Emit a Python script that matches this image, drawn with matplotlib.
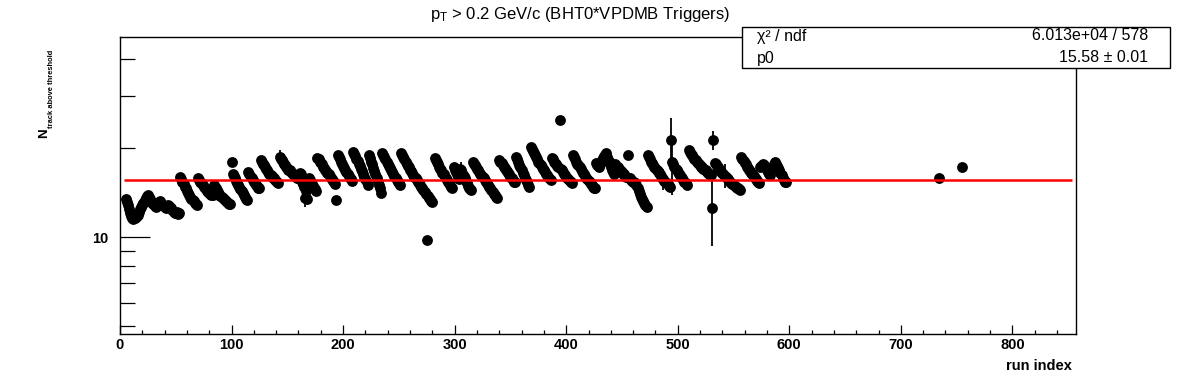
import numpy as np
import matplotlib
matplotlib.use("Agg")
import matplotlib.pyplot as plt
from matplotlib.patches import Rectangle
from matplotlib.ticker import FixedLocator, FixedFormatter, NullFormatter, MultipleLocator

plt.rcParams["font.family"] = ["Liberation Sans", "DejaVu Sans"]
plt.rcParams["mathtext.fontset"] = "custom"
plt.rcParams["mathtext.rm"] = "Liberation Sans"
plt.rcParams["mathtext.it"] = "Liberation Sans"
plt.rcParams["mathtext.bf"] = "Liberation Sans:bold"

# --- data: mean track multiplicity per run, grouped by fill (first run index + values)
fill_start = [5, 15, 28, 54, 70, 84, 100, 115, 126, 143, 161, 177, 194, 195, 209,
              223, 235, 252, 282, 299, 316, 340, 355, 368, 387, 406, 427, 444,
              473, 494, 495, 510, 531, 533, 557, 574]

f01 = [13.4, 13.1, 12.8, 12.4, 12.1, 11.8, 11.6, 11.5, 11.6, 11.7]
f02 = [11.8, 11.9, 12.2, 12.4, 12.6, 12.8, 13.0, 13.3, 13.6, 13.8, 13.9, 13.7, 13.4]
f03 = [13.2, 13.0, 12.9, 12.7, 12.6, 12.8, 13.0, 13.1, 13.2, 13.0, 12.8, 12.7, 12.6,
       12.5, 12.7, 12.8, 12.7, 12.6, 12.5, 12.3, 12.2, 12.1, 12.1, 12.2, 12.0, 12.1]
f04 = [16.0, 15.7, 15.4, 15.1, 14.8, 14.6, 14.3, 14.1, 13.9, 13.7, 13.5, 13.3, 13.2,
       13.0, 12.9, 12.8]
f05 = [15.9, 15.6, 15.4, 15.2, 15.0, 14.8, 14.6, 14.5, 14.3, 14.2, 14.1, 14.0, 13.9, 13.9]
f06 = [15.0, 14.8, 14.6, 14.4, 14.2, 14.0, 13.8, 13.7, 13.6, 13.4, 13.3, 13.2, 13.1,
       13.0, 12.9, 12.9]
f07 = [17.9, 16.4, 16.1, 15.8, 15.5, 15.2, 15.0, 14.8, 14.5, 14.3, 14.1, 13.9, 13.7,
       13.5, 13.3]
f08 = [16.6, 16.3, 16.0, 15.8, 15.6, 15.4, 15.2, 15.0, 14.9, 14.7, 14.6]
f09 = [18.2, 17.9, 17.7, 17.5, 17.2, 17.0, 16.8, 16.6, 16.4, 16.2, 16.1, 15.9, 15.8,
       15.6, 15.5, 15.4, 15.2]
f10 = [18.7, 18.4, 18.2, 17.9, 17.7, 17.5, 17.3, 17.1, 16.9, 16.8, 16.6, 16.5, 16.3,
       16.2, 16.1, 16.0, 15.9, 15.8]
f11 = [16.5, 16.3, 15.4, 15.1, 14.8, 13.6, 14.3, 13.5, 15.8, 15.6, 15.3, 15.1, 14.9,
       14.7, 14.5, 14.3]
f12 = [18.5, 18.3, 18.0, 17.8, 17.6, 17.3, 17.1, 16.9, 16.7, 16.5, 16.3, 16.1, 15.9,
       15.7, 15.5, 15.3, 15.1]
f13 = [13.3]
f14 = [18.9, 18.6, 18.3, 18.0, 17.7, 17.4, 17.1, 16.8, 16.6, 16.3, 16.1, 15.9, 15.7, 15.5]
f15 = [19.4, 19.1, 18.8, 18.4, 18.1, 17.7, 17.4, 17.0, 16.7, 16.4, 16.0, 15.7, 15.3, 15.0]
f16 = [18.9, 18.5, 18.0, 17.6, 17.1, 16.7, 16.3, 15.9, 15.4, 15.0, 14.6, 14.1]
f17 = [19.2, 18.9, 18.6, 18.3, 18.0, 17.7, 17.4, 17.1, 16.9, 16.6, 16.4, 16.1, 15.9,
       15.6, 15.4, 15.2, 15.0]
f18 = [19.2, 18.9, 18.6, 18.3, 18.0, 17.7, 17.4, 17.2, 16.9, 16.7, 16.5, 16.2, 16.0,
       15.8, 15.6, 15.4, 15.2, 15.0, 14.8, 14.6, 14.4, 14.2, 14.0, 9.8, 13.8, 13.6,
       13.4, 13.2, 13.1]
f19 = [18.5, 18.2, 17.9, 17.6, 17.3, 17.0, 16.8, 16.5, 16.3, 16.0, 15.8, 15.6, 15.4,
       15.2, 15.0, 14.8, 14.6]
f20 = [17.2, 16.9, 16.6, 16.3, 16.0, 15.7, 17.0, 16.9, 16.5, 16.1, 15.8, 15.5, 15.2,
       14.9, 14.7, 14.5, 14.4]
f21 = [17.9, 17.7, 17.5, 17.2, 17.0, 16.8, 16.6, 16.4, 16.2, 16.0, 15.8, 15.6, 15.4,
       15.2, 15.0, 14.8, 14.6, 14.4, 14.2, 14.0, 13.9, 13.7, 13.6]
f22 = [18.2, 18.0, 17.8, 17.5, 17.3, 17.1, 16.9, 16.7, 16.5, 16.3, 16.0, 15.8, 15.6,
       15.4, 15.3]
f23 = [18.7, 18.3, 17.9, 17.5, 17.2, 16.9, 16.5, 16.2, 15.9, 15.6, 15.3, 15.0, 14.8]
f24 = [20.1, 19.8, 19.5, 19.2, 18.9, 18.6, 18.3, 18.0, 17.8, 17.5, 17.3, 17.0, 16.8,
       16.6, 16.4, 16.2, 16.0, 15.8, 15.6]
f25 = [18.5, 18.3, 18.0, 17.8, 17.6, 17.4, 17.2, 24.9, 17.0, 16.8, 16.6, 16.4, 16.2,
       16.0, 15.8, 15.7, 15.5, 15.3, 15.2]
f26 = [18.9, 18.6, 18.3, 18.0, 17.7, 17.5, 17.2, 17.0, 16.7, 16.5, 16.3, 16.1, 15.9,
       15.7, 15.5, 15.3, 15.1, 15.0, 14.8, 14.7, 14.6]
f27 = [17.8, 17.5, 17.3, 17.6, 17.9, 18.2, 18.5, 18.8, 19.0, 19.2, 18.6, 18.1, 17.7,
       17.3, 16.9, 16.6, 16.3]
f28 = [17.6, 17.4, 17.2, 17.0, 16.9, 16.7, 16.6, 16.4, 16.3, 16.1, 16.0, 18.9, 15.9,
       15.8, 15.6, 15.5, 15.4, 15.3, 15.2, 15.0, 14.6, 14.3, 14.0, 13.7, 13.4, 13.2,
       13.0, 12.8, 12.6]
f29 = [18.9, 18.6, 18.3, 18.0, 17.8, 17.5, 17.3, 17.1, 16.9, 16.7, 16.5, 16.3, 16.1,
       15.9, 15.7, 15.5, 15.4, 15.2, 15.1, 14.9, 14.8]
f30 = [21.3]
f31 = [17.9, 17.6, 17.3, 17.0, 16.8, 16.6, 16.4, 16.2, 16.0, 15.8, 15.6, 15.4, 15.2, 15.0]
f32 = [19.7, 19.4, 19.1, 18.9, 18.6, 18.4, 18.2, 18.0, 17.8, 17.6, 17.5, 17.3, 17.2,
       17.0, 16.9, 16.8, 16.6, 16.5, 16.4, 16.3, 16.2]
f33 = [12.5, 21.3]
f34 = [17.8, 17.6, 17.4, 17.2, 17.0, 16.8, 16.6, 16.5, 16.3, 16.1, 16.0, 15.8, 15.7,
       15.5, 15.4, 15.2, 15.1, 15.0, 14.9, 14.8, 14.7, 14.6, 14.5, 14.4]
f35 = [18.7, 18.4, 18.1, 17.8, 17.6, 17.3, 17.1, 16.9, 16.7, 16.5, 16.3, 16.1, 15.9,
       15.7, 15.5, 15.3, 15.2]
f36 = [17.2, 17.4, 17.6, 17.5, 17.3, 17.1, 16.9, 16.6, 16.4, 16.2, 17.0, 17.3, 17.6,
       17.9, 17.7, 17.4, 17.1, 16.8, 16.5, 16.2, 15.9, 15.6, 15.4, 15.3]
fills = [f01, f02, f03, f04, f05, f06, f07, f08, f09, f10, f11, f12, f13, f14, f15,
         f16, f17, f18, f19, f20, f21, f22, f23, f24, f25, f26, f27, f28, f29, f30,
         f31, f32, f33, f34, f35, f36]

late_runs = [734, 755]
late_vals = [15.8, 17.3]

# runs with a visible statistical error bar
err_runs = [143, 166, 306, 487, 494, 495, 531, 532, 542]
err_size = [1.0, 1.0, 1.1, 1.3, 4.0, 4.0, 3.2, 1.6, 1.5]

p0 = 15.58
chi2_txt = "6.013e+04 / 578"
p0_txt = "15.58 \u00b1 0.01"

run_index = np.concatenate([np.arange(s, s + len(v)) for s, v in zip(fill_start, fills)]
                           + [np.array(late_runs)])
n_track = np.concatenate([np.array(v) for v in fills] + [np.array(late_vals)])
lookup = dict(zip(run_index.tolist(), n_track.tolist()))

W, H = 1196, 372
fig = plt.figure(figsize=(W / 100, H / 100), dpi=100)
ax = fig.add_axes([120 / W, 1 - 334 / H, (1076 - 120) / W, (334 - 37) / H])

ax.plot(run_index, n_track, "o", color="black", ms=7.8, mew=0, zorder=3)
ax.errorbar(err_runs, [lookup[r] for r in err_runs], yerr=err_size, fmt="none",
            ecolor="black", elinewidth=1.3, capsize=0, zorder=3)
ax.hlines(p0, 3.5, 853, color="#ff0000", lw=1.8, zorder=4)

ax.set_yscale("log")
ax.set_xlim(0, 857)
ax.set_ylim(4.70, 47.5)

ax.yaxis.set_major_locator(FixedLocator([10]))
ax.yaxis.set_major_formatter(FixedFormatter(["10"]))
ax.yaxis.set_minor_locator(FixedLocator([5, 6, 7, 8, 9, 20, 30, 40]))
ax.yaxis.set_minor_formatter(NullFormatter())
ax.xaxis.set_major_locator(MultipleLocator(100))
ax.xaxis.set_minor_locator(MultipleLocator(20))

ax.tick_params(axis="y", which="major", direction="in", length=21.6, width=0.9, pad=8.5)
ax.tick_params(axis="y", which="minor", direction="in", length=10.8, width=0.9)
ax.tick_params(axis="x", which="major", direction="in", length=6.5, width=0.9, pad=3.0)
ax.tick_params(axis="x", which="minor", direction="in", length=3.2, width=0.9)
for lab in ax.get_xticklabels() + ax.get_yticklabels():
    lab.set_fontweight("bold")
    lab.set_fontsize(10.5)
for sp in ax.spines.values():
    sp.set_linewidth(1.0)

# title and axis titles
fig.text(580 / W, 1 - 14 / H, r"$\mathregular{p_{T}}$ > 0.2 GeV/c (BHT0*VPDMB Triggers)",
         ha="center", va="center", fontsize=12)
fig.text(1072 / W, 1 - 366 / H, "run index", ha="right", va="center",
         fontsize=10.5, fontweight="bold")
fig.text(47 / W, 1 - 138 / H, "N", rotation=90, rotation_mode="anchor",
         ha="left", va="baseline", fontsize=9.5, fontweight="bold")
fig.text(53 / W, 1 - 128 / H, "track above threshold", rotation=90,
         rotation_mode="anchor", ha="left", va="baseline", fontsize=5.4,
         fontweight="bold")

# fit statistics box
box = Rectangle((742 / W, 1 - 68 / H), (1170 - 742) / W, (68 - 27) / H,
                transform=fig.transFigure, facecolor="white", edgecolor="black",
                lw=1.0, zorder=5)
fig.add_artist(box)
fig.text(757 / W, 1 - 36 / H, "\u03c7\u00b2 / ndf", ha="left", va="center",
         fontsize=11.5, zorder=6)
fig.text(1148 / W, 1 - 36 / H, chi2_txt, ha="right", va="center", fontsize=11.5, zorder=6)
fig.text(757 / W, 1 - 58 / H, "p0", ha="left", va="center", fontsize=11.5, zorder=6)
fig.text(1148 / W, 1 - 58 / H, p0_txt, ha="right", va="center", fontsize=11.5, zorder=6)

fig.savefig("out.png", dpi=100)
